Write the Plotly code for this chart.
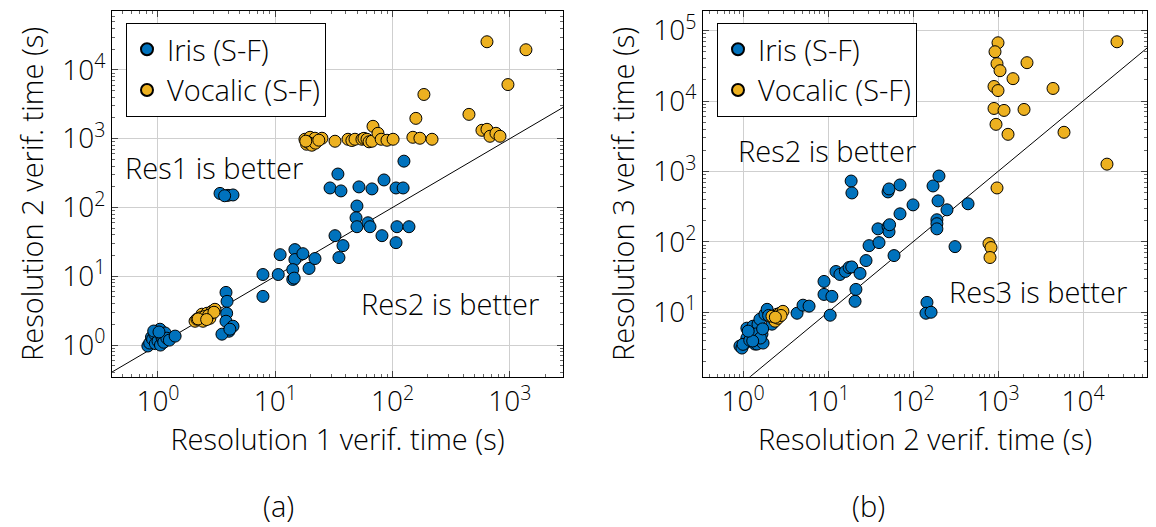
import plotly.graph_objects as go

# ---------------- data ----------------
# Panel (a): Resolution 1 time (x) vs Resolution 2 time (y)
a_iris_x = [0.82, 0.85, 0.88, 0.90, 0.94, 0.95, 1.00, 1.04, 1.05, 1.08, 1.10, 1.12, 1.15, 1.19, 1.25, 1.40, 0.92, 1.02,
            3.80, 3.88, 3.85, 3.80, 4.36, 4.03, 3.51, 4.10,
            3.38, 3.95, 4.36, 3.70,
            7.85, 7.85, 10.6, 11.0, 14.7, 14.7, 14.1, 14.1, 14.5, 17.2, 19.4, 21.8,
            32.3, 37.8, 34.9, 49.7, 48.8, 49.7, 61.7, 64.2, 81.2, 109, 138, 107,
            34.2, 29.3, 36.3, 51.7, 66.7, 84.5, 107, 123, 125]
a_iris_y = [0.97, 1.07, 1.30, 1.22, 1.44, 1.05, 1.14, 1.70, 1.00, 1.30, 1.22, 1.10, 1.50, 1.26, 1.18, 1.35, 1.60, 1.55,
            5.83, 4.32, 2.90, 2.22, 1.88, 1.59, 1.44, 1.70,
            160, 150, 152, 148,
            10.6, 5.1, 10.6, 20.6, 24.4, 17.5, 12.5, 9.0, 9.4, 21.3, 13.0, 18.1,
            38.9, 27.9, 18.7, 105, 70.8, 52.5, 59.9, 52.5, 38.9, 52.5, 52.5, 30.8,
            306, 192, 174, 199, 186, 251, 192, 192, 471]
a_voc_x = [2.07, 2.15, 2.37, 2.62, 2.89, 3.06, 2.42, 2.77, 2.30, 2.50, 2.70, 2.20, 3.00, 2.60,
           17.9, 19.8, 21.8, 25.0, 18.5, 19.0, 20.5, 22.0, 18.2, 23.5,
           32.3, 41.7, 45.0, 47.8, 54.8, 57.0, 60.5, 63.0, 66.7, 68.1, 75.1, 80.0, 89.6, 101,
           149, 171, 217, 158, 185, 448, 578, 638, 677, 761, 824, 638, 1371, 963]
a_voc_y = [2.22, 2.38, 2.81, 2.90, 3.10, 3.31, 2.22, 2.45, 2.50, 2.60, 2.70, 2.40, 3.00, 2.35,
           980, 1047, 1014, 1014, 830, 887, 803, 860, 920, 950,
           917, 980, 940, 980, 980, 1010, 980, 900, 917, 1512, 1197, 980, 948, 980,
           1047, 1014, 980, 1972, 4385, 2254, 1323, 1367, 1083, 1197, 1083, 25600, 19600, 6110]

# Panel (b): Resolution 2 time (x) vs Resolution 3 time (y)
b_iris_x = [0.92, 0.97, 1.06, 1.11, 1.28, 1.38, 1.46, 1.50, 1.67, 1.72, 1.11, 1.31, 1.50, 1.58, 1.81, 1.92, 2.19,
            1.00, 1.20, 1.40, 1.60, 1.30, 1.15, 1.70, 2.00,
            4.32, 5.08, 5.98, 8.97, 8.97, 11.1, 10.6, 12.4, 13.8, 16.0, 17.7, 19.0, 23.8, 21.3, 20.8,
            28.0, 30.4, 39.8, 38.7, 50.8, 52.2, 53.0, 59.8, 70.3, 100, 197, 191, 191, 191, 251, 444, 312,
            146, 142, 163, 18.7, 19.1, 50.8, 52.2, 70.3, 172, 202]
b_iris_y = [3.31, 3.10, 3.65, 4.30, 4.58, 3.53, 3.53, 4.16, 4.89, 3.65, 5.94, 6.34, 6.77, 7.96, 9.37, 11.0, 6.77,
            3.50, 4.00, 4.90, 4.30, 3.90, 5.39, 5.80, 9.00,
            9.68, 12.6, 12.2, 27.4, 17.9, 16.8, 9.07, 37.9, 34.4, 38.0, 43.2, 44.0, 35.6, 21.1, 14.3,
            54.2, 88.3, 97.5, 153, 164, 139, 175, 63.8, 250, 335, 382, 206, 181, 153, 285, 347, 85.5,
            13.8, 9.68, 10.0, 731, 495, 512, 564, 643, 622, 861]
b_voc_x = [2.25, 2.51, 2.72, 2.95, 2.38, 2.19, 2.58, 2.80, 2.40,
           1000, 922, 973, 1056, 1501, 2193, 897, 1000, 4440, 897, 1177, 2023, 947, 1312, 5976,
           25100, 19150, 973, 783, 827, 805]
b_voc_y = [8.22, 9.37, 9.68, 10.3, 7.46, 8.79, 8.22, 9.00, 8.50,
           67300, 50200, 34000, 27000, 20800, 35100, 16100, 14100, 15100, 7850, 7360, 7600, 4670, 3370, 3600,
           69500, 1270, 583, 94.4, 82.9, 59.9]

diag = [0.01, 1e6]  # y = x reference line

a_xticks = [1, 10, 100, 1000]
a_xticktext = ["10<sup>0</sup>", "10<sup>1</sup>", "10<sup>2</sup>", "10<sup>3</sup>"]
a_yticks = [1, 10, 100, 1000, 10000]
a_yticktext = ["10<sup>0</sup>", "10<sup>1</sup>", "10<sup>2</sup>", "10<sup>3</sup>", "10<sup>4</sup>"]
b_xticks = [1, 10, 100, 1000, 10000]
b_xticktext = ["10<sup>0</sup>", "10<sup>1</sup>", "10<sup>2</sup>", "10<sup>3</sup>", "10<sup>4</sup>"]
b_yticks = [10, 100, 1000, 10000, 100000]
b_yticktext = ["10<sup>1</sup>", "10<sup>2</sup>", "10<sup>3</sup>", "10<sup>4</sup>", "10<sup>5</sup>"]

series_names = ["Iris (S-F)", "Vocalic (S-F)"]

# ---------------- styling ----------------
W, H = 1156, 527
FONT = "Open Sans"
FS = 29
WT = 300
BLUE = "#0072BD"
ORANGE = "#EDB120"
MS = 12


def px(x):
    return x / W


def py(y):
    return 1 - y / H


def fnt(size=FS):
    return dict(family=FONT, size=size, color="black", weight=WT)


fig = go.Figure()

for (xa, ya, leg, dx, ix, iy, vx, vy) in [
    ("x", "y", "legend", diag, a_iris_x, a_iris_y, a_voc_x, a_voc_y),
    ("x2", "y2", "legend2", diag, b_iris_x, b_iris_y, b_voc_x, b_voc_y),
]:
    fig.add_trace(go.Scatter(x=dx, y=dx, mode="lines", line=dict(color="black", width=1),
                             showlegend=False, xaxis=xa, yaxis=ya, hoverinfo="skip"))
    fig.add_trace(go.Scatter(x=ix, y=iy, mode="markers", name=series_names[0], legend=leg,
                             marker=dict(color=BLUE, size=MS, line=dict(color="black", width=1)),
                             xaxis=xa, yaxis=ya, cliponaxis=False))
    fig.add_trace(go.Scatter(x=vx, y=vy, mode="markers", name=series_names[1], legend=leg,
                             marker=dict(color=ORANGE, size=MS, line=dict(color="black", width=1)),
                             xaxis=xa, yaxis=ya, cliponaxis=False))

common = dict(
    type="log", showline=True, linecolor="black", linewidth=1, mirror="allticks",
    ticks="inside", ticklen=6, tickcolor="#444", tickwidth=1,
    showgrid=True, gridcolor="#cfcfcf", gridwidth=1, zeroline=False,
    tickfont=fnt(28),
    minor=dict(ticks="inside", ticklen=3, tickcolor="#666", dtick="D1", showgrid=False),
    tickmode="array",
)
ydom = [py(376), py(8)]

fig.update_layout(
    width=W, height=H, margin=dict(l=0, r=0, t=0, b=0),
    paper_bgcolor="white", plot_bgcolor="white",
    font=fnt(),
    xaxis=dict(common, domain=[px(112), px(563)], range=[-0.392, 3.453], anchor="y",
               tickvals=a_xticks, ticktext=a_xticktext,
               title=dict(text="Resolution 1 verif. time (s)", font=fnt(), standoff=4)),
    yaxis=dict(common, domain=ydom, range=[-0.462, 4.856], anchor="x",
               tickvals=a_yticks, ticktext=a_yticktext,
               title=dict(text="Resolution 2 verif. time (s)", font=fnt(), standoff=10)),
    xaxis2=dict(common, domain=[px(703), px(1147)], range=[-0.471, 4.753], anchor="y2",
                tickvals=b_xticks, ticktext=b_xticktext,
                title=dict(text="Resolution 2 verif. time (s)", font=fnt(), standoff=4)),
    yaxis2=dict(common, domain=ydom, range=[0.082, 5.28], anchor="x2",
                tickvals=b_yticks, ticktext=b_yticktext,
                title=dict(text="Resolution 3 verif. time (s)", font=fnt(), standoff=10)),
    legend=dict(x=px(126), y=py(20), xanchor="left", yanchor="top", bgcolor="white",
                bordercolor="black", borderwidth=1, font=fnt(), itemsizing="constant"),
    legend2=dict(x=px(717), y=py(20), xanchor="left", yanchor="top", bgcolor="white",
                 bordercolor="black", borderwidth=1, font=fnt(), itemsizing="constant"),
)

ann = [
    ("Res1 is better", 214, 165),
    ("Res2 is better", 450, 302),
    ("Res2 is better", 827, 148),
    ("Res3 is better", 1038, 290),
    ("(a)", 278, 505),
    ("(b)", 868, 505),
]
for text, x, y in ann:
    fig.add_annotation(text=text, x=px(x), y=py(y), xref="paper", yref="paper",
                       xanchor="center", yanchor="middle", showarrow=False, font=fnt())

fig.write_html("out.html")
